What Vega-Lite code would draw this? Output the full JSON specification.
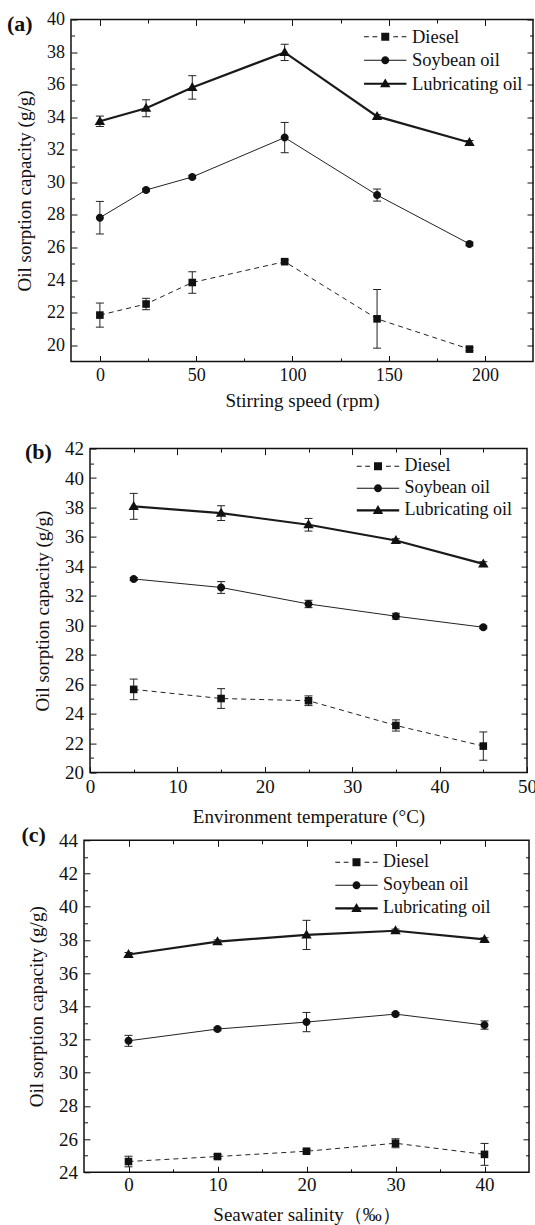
{
  "$schema": "https://vega.github.io/schema/vega-lite/v6.json",
  "background": "white",
  "padding": {"left": 5, "top": 9.5, "right": 0, "bottom": 0},
  "datasets": {
    "a": [
      {"oil": "Diesel", "x": 0, "y": 21.85, "lo": 21.11, "hi": 22.59},
      {"oil": "Diesel", "x": 24, "y": 22.53, "lo": 22.18, "hi": 22.88},
      {"oil": "Diesel", "x": 48, "y": 23.85, "lo": 23.19, "hi": 24.51},
      {"oil": "Diesel", "x": 96, "y": 25.13, "lo": 25.03, "hi": 25.23},
      {"oil": "Diesel", "x": 144, "y": 21.62, "lo": 19.82, "hi": 23.42},
      {"oil": "Diesel", "x": 192, "y": 19.76, "lo": 19.66, "hi": 19.86},
      {"oil": "Soybean oil", "x": 0, "y": 27.83, "lo": 26.83, "hi": 28.83},
      {"oil": "Soybean oil", "x": 24, "y": 29.53, "lo": 29.43, "hi": 29.63},
      {"oil": "Soybean oil", "x": 48, "y": 30.33, "lo": 30.23, "hi": 30.43},
      {"oil": "Soybean oil", "x": 96, "y": 32.75, "lo": 31.82, "hi": 33.68},
      {"oil": "Soybean oil", "x": 144, "y": 29.22, "lo": 28.85, "hi": 29.59},
      {"oil": "Soybean oil", "x": 192, "y": 26.22, "lo": 26.1, "hi": 26.34},
      {"oil": "Lubricating oil", "x": 0, "y": 33.75, "lo": 33.43, "hi": 34.07},
      {"oil": "Lubricating oil", "x": 24, "y": 34.55, "lo": 34.03, "hi": 35.07},
      {"oil": "Lubricating oil", "x": 48, "y": 35.83, "lo": 35.11, "hi": 36.55},
      {"oil": "Lubricating oil", "x": 96, "y": 37.98, "lo": 37.48, "hi": 38.48},
      {"oil": "Lubricating oil", "x": 144, "y": 34.05, "lo": 33.95, "hi": 34.15},
      {"oil": "Lubricating oil", "x": 192, "y": 32.45, "lo": 32.33, "hi": 32.57}
    ],
    "b": [
      {"oil": "Diesel", "x": 5, "y": 25.65, "lo": 24.95, "hi": 26.35},
      {"oil": "Diesel", "x": 15, "y": 25.03, "lo": 24.36, "hi": 25.7},
      {"oil": "Diesel", "x": 25, "y": 24.88, "lo": 24.55, "hi": 25.21},
      {"oil": "Diesel", "x": 35, "y": 23.2, "lo": 22.82, "hi": 23.58},
      {"oil": "Diesel", "x": 45, "y": 21.8, "lo": 20.84, "hi": 22.76},
      {"oil": "Soybean oil", "x": 5, "y": 33.15, "lo": 33.05, "hi": 33.25},
      {"oil": "Soybean oil", "x": 15, "y": 32.57, "lo": 32.17, "hi": 32.97},
      {"oil": "Soybean oil", "x": 25, "y": 31.45, "lo": 31.2, "hi": 31.7},
      {"oil": "Soybean oil", "x": 35, "y": 30.62, "lo": 30.42, "hi": 30.82},
      {"oil": "Soybean oil", "x": 45, "y": 29.87, "lo": 29.77, "hi": 29.97},
      {"oil": "Lubricating oil", "x": 5, "y": 38.08, "lo": 37.2, "hi": 38.96},
      {"oil": "Lubricating oil", "x": 15, "y": 37.62, "lo": 37.12, "hi": 38.12},
      {"oil": "Lubricating oil", "x": 25, "y": 36.83, "lo": 36.4, "hi": 37.26},
      {"oil": "Lubricating oil", "x": 35, "y": 35.76, "lo": 35.64, "hi": 35.88},
      {"oil": "Lubricating oil", "x": 45, "y": 34.17, "lo": 34.02, "hi": 34.32}
    ],
    "c": [
      {"oil": "Diesel", "x": 0, "y": 24.65, "lo": 24.33, "hi": 24.97},
      {"oil": "Diesel", "x": 10, "y": 24.95, "lo": 24.83, "hi": 25.07},
      {"oil": "Diesel", "x": 20, "y": 25.27, "lo": 25.17, "hi": 25.37},
      {"oil": "Diesel", "x": 30, "y": 25.75, "lo": 25.48, "hi": 26.02},
      {"oil": "Diesel", "x": 40, "y": 25.08, "lo": 24.42, "hi": 25.74},
      {"oil": "Soybean oil", "x": 0, "y": 31.92, "lo": 31.59, "hi": 32.25},
      {"oil": "Soybean oil", "x": 10, "y": 32.63, "lo": 32.53, "hi": 32.73},
      {"oil": "Soybean oil", "x": 20, "y": 33.05, "lo": 32.47, "hi": 33.63},
      {"oil": "Soybean oil", "x": 30, "y": 33.53, "lo": 33.43, "hi": 33.63},
      {"oil": "Soybean oil", "x": 40, "y": 32.87, "lo": 32.62, "hi": 33.12},
      {"oil": "Lubricating oil", "x": 0, "y": 37.12, "lo": 37.0, "hi": 37.24},
      {"oil": "Lubricating oil", "x": 10, "y": 37.9, "lo": 37.8, "hi": 38.0},
      {"oil": "Lubricating oil", "x": 20, "y": 38.3, "lo": 37.42, "hi": 39.18},
      {"oil": "Lubricating oil", "x": 30, "y": 38.55, "lo": 38.45, "hi": 38.65},
      {"oil": "Lubricating oil", "x": 40, "y": 38.03, "lo": 37.93, "hi": 38.13}
    ]
  },
  "concat": [
    {
      "concat": [
        {"width": 1, "height": 1, "data": {"values": []}, "mark": {"type": "point", "opacity": 0}},
        {
          "width": 462, "height": 342,
          "data": {"name": "a"},
          "view": {"stroke": "#111", "strokeWidth": 1.5},
          "title": {"text": "(a)", "anchor": "start", "frame": "group", "dx": -64, "offset": -25, "fontSize": 22, "fontWeight": "bold", "font": "Liberation Serif", "color": "#111"},
          "resolve": {"axis": {"x": "independent", "y": "independent"}, "scale": {"shape": "independent"}},
          "layer": [
            {
              "mark": {"type": "rule", "color": "#222", "strokeWidth": 1},
              "encoding": {
                "x": {"field": "x", "type": "quantitative", "scale": {"domain": [-15, 225], "nice": false, "zero": false},
                  "axis": {"orient": "bottom", "values": [0, 50, 100, 150, 200], "tickSize": -6, "labelPadding": 11, "labelFlush": false, "labelFontSize": 18, "title": "Stirring speed (rpm)", "titlePadding": 7}},
                "y": {"field": "lo", "type": "quantitative", "scale": {"domain": [19, 40], "nice": false, "zero": false},
                  "axis": {"orient": "left", "values": [20, 22, 24, 26, 28, 30, 32, 34, 36, 38, 40], "tickSize": -6, "labelPadding": 12.5, "labelFontSize": 18, "title": "Oil sorption capacity (g/g)", "titlePadding": 12}},
                "y2": {"field": "hi"}
              }
            },
            {
              "mark": {"type": "tick", "orient": "horizontal", "size": 8, "thickness": 1, "color": "#222", "opacity": 1},
              "encoding": {
                "x": {"field": "x", "type": "quantitative", "axis": {"orient": "bottom", "values": [25, 75, 125, 175], "tickSize": -3.5, "labels": false, "title": null}},
                "y": {"field": "lo", "type": "quantitative", "axis": {"orient": "left", "values": [21, 23, 25, 27, 29, 31, 33, 35, 37, 39], "tickSize": -3.5, "labels": false, "title": null}}
              }
            },
            {
              "mark": {"type": "tick", "orient": "horizontal", "size": 8, "thickness": 1, "color": "#222", "opacity": 1},
              "encoding": {
                "x": {"field": "x", "type": "quantitative", "axis": {"orient": "top", "values": [0, 50, 100, 150, 200], "tickSize": -6, "labels": false, "title": null}},
                "y": {"field": "hi", "type": "quantitative", "axis": {"orient": "right", "values": [20, 22, 24, 26, 28, 30, 32, 34, 36, 38, 40], "tickSize": -6, "labels": false, "title": null}}
              }
            },
            {
              "transform": [{"filter": "datum.oil === 'Diesel'"}],
              "mark": {"type": "line", "color": "#222", "strokeWidth": 1, "strokeDash": [5, 4]},
              "encoding": {
                "x": {"field": "x", "type": "quantitative", "axis": {"orient": "top", "values": [25, 75, 125, 175], "tickSize": -3.5, "labels": false, "title": null}},
                "y": {"field": "y", "type": "quantitative", "axis": {"orient": "right", "values": [21, 23, 25, 27, 29, 31, 33, 35, 37, 39], "tickSize": -3.5, "labels": false, "title": null}}
              }
            },
            {
              "transform": [{"filter": "datum.oil === 'Soybean oil'"}],
              "mark": {"type": "line", "color": "#222", "strokeWidth": 1},
              "encoding": {
                "x": {"field": "x", "type": "quantitative", "axis": null},
                "y": {"field": "y", "type": "quantitative", "axis": null}
              }
            },
            {
              "transform": [{"filter": "datum.oil === 'Lubricating oil'"}],
              "mark": {"type": "line", "color": "#1a1a1a", "strokeWidth": 2.2},
              "encoding": {
                "x": {"field": "x", "type": "quantitative", "axis": null},
                "y": {"field": "y", "type": "quantitative", "axis": null}
              }
            },
            {
              "mark": {"type": "point", "filled": true, "opacity": 1, "color": "#111", "size": 64},
              "encoding": {
                "x": {"field": "x", "type": "quantitative", "axis": null},
                "y": {"field": "y", "type": "quantitative", "axis": null},
                "shape": {"field": "oil", "type": "nominal", "legend": null,
                  "scale": {"domain": ["Diesel", "Soybean oil", "Lubricating oil"], "range": ["M-0.95,-0.95H0.95V0.95H-0.95Z", "M-1,0A1,1,0,1,1,1,0A1,1,0,1,1,-1,0Z", "M0,-1.35L1.3,0.9L-1.3,0.9Z"]}}
              }
            },
            {
              "transform": [{"filter": "false"}],
              "mark": {"type": "point", "filled": true, "opacity": 1, "color": "#111", "size": 64},
              "encoding": {
                "x": {"field": "x", "type": "quantitative", "axis": null},
                "y": {"field": "y", "type": "quantitative", "axis": null},
                "shape": {"field": "oil", "type": "nominal",
                  "scale": {"domain": ["Diesel", "Soybean oil", "Lubricating oil"], "range": ["M-5.3,-0.13H-4.1V0.13H-5.3ZM-3.2,-0.13H-2V0.13H-3.2ZM-1,-1H1V1H-1ZM2,-0.13H3.2V0.13H2ZM4.1,-0.13H5.3V0.13H4.1Z", "M-5.3,-0.13H5.3V0.13H-5.3ZM-1,0A1,1,0,1,1,1,0A1,1,0,1,1,-1,0Z", "M-5.3,-0.28H5.3V0.28H-5.3ZM0,-1.3L1.3,0.9L-1.3,0.9Z"]},
                  "legend": {"title": null, "orient": "none", "legendX": 305, "legendY": 8, "labelFontSize": 18.5, "labelOffset": 17.5, "rowPadding": 4.5, "symbolSize": 64, "symbolStrokeWidth": 0, "symbolFillColor": "#111", "symbolOpacity": 1, "labelLimit": 400, "padding": 0}}
              }
            }
          ]
        }
      ],
      "columns": 2,
      "align": "none",
      "spacing": 0
    },
    {
      "concat": [
        {
          "concat": [
            {"width": 18.2, "height": 1, "data": {"values": []}, "mark": {"type": "point", "opacity": 0}},
            {
              "width": 437, "height": 324,
              "data": {"name": "b"},
              "view": {"stroke": "#111", "strokeWidth": 1.5},
              "title": {"text": "(b)", "anchor": "start", "frame": "group", "dx": -65, "offset": -24, "fontSize": 22, "fontWeight": "bold", "font": "Liberation Serif", "color": "#111"},
              "resolve": {"axis": {"x": "independent", "y": "independent"}, "scale": {"shape": "independent"}},
              "layer": [
                {
                  "mark": {"type": "rule", "color": "#222", "strokeWidth": 1},
                  "encoding": {
                    "x": {"field": "x", "type": "quantitative", "scale": {"domain": [0, 50], "nice": false, "zero": false},
                      "axis": {"orient": "bottom", "values": [0, 10, 20, 30, 40, 50], "tickSize": -6, "labelPadding": 11, "labelFlush": false, "labelFontSize": 19, "title": "Environment temperature (°C)", "titlePadding": 11}},
                    "y": {"field": "lo", "type": "quantitative", "scale": {"domain": [20, 42], "nice": false, "zero": false},
                      "axis": {"orient": "left", "values": [20, 22, 24, 26, 28, 30, 32, 34, 36, 38, 40, 42], "tickSize": -6, "labelPadding": 12.5, "labelFontSize": 19, "title": "Oil sorption capacity (g/g)", "titlePadding": 12}},
                    "y2": {"field": "hi"}
                  }
                },
                {
                  "mark": {"type": "tick", "orient": "horizontal", "size": 8, "thickness": 1, "color": "#222", "opacity": 1},
                  "encoding": {
                    "x": {"field": "x", "type": "quantitative", "axis": {"orient": "bottom", "values": [5, 15, 25, 35, 45], "tickSize": -3.5, "labels": false, "title": null}},
                    "y": {"field": "lo", "type": "quantitative", "axis": {"orient": "left", "values": [21, 23, 25, 27, 29, 31, 33, 35, 37, 39, 41], "tickSize": -3.5, "labels": false, "title": null}}
                  }
                },
                {
                  "mark": {"type": "tick", "orient": "horizontal", "size": 8, "thickness": 1, "color": "#222", "opacity": 1},
                  "encoding": {
                    "x": {"field": "x", "type": "quantitative", "axis": {"orient": "top", "values": [10, 20, 30, 40], "tickSize": -6, "labels": false, "title": null}},
                    "y": {"field": "hi", "type": "quantitative", "axis": {"orient": "right", "values": [22, 24, 26, 28, 30, 32, 34, 36, 38, 40], "tickSize": -6, "labels": false, "title": null}}
                  }
                },
                {
                  "transform": [{"filter": "datum.oil === 'Diesel'"}],
                  "mark": {"type": "line", "color": "#222", "strokeWidth": 1, "strokeDash": [5, 4]},
                  "encoding": {
                    "x": {"field": "x", "type": "quantitative", "axis": {"orient": "top", "values": [5, 15, 25, 35, 45], "tickSize": -3.5, "labels": false, "title": null}},
                    "y": {"field": "y", "type": "quantitative", "axis": {"orient": "right", "values": [21, 23, 25, 27, 29, 31, 33, 35, 37, 39, 41], "tickSize": -3.5, "labels": false, "title": null}}
                  }
                },
                {
                  "transform": [{"filter": "datum.oil === 'Soybean oil'"}],
                  "mark": {"type": "line", "color": "#222", "strokeWidth": 1},
                  "encoding": {
                    "x": {"field": "x", "type": "quantitative", "axis": null},
                    "y": {"field": "y", "type": "quantitative", "axis": null}
                  }
                },
                {
                  "transform": [{"filter": "datum.oil === 'Lubricating oil'"}],
                  "mark": {"type": "line", "color": "#1a1a1a", "strokeWidth": 2.2},
                  "encoding": {
                    "x": {"field": "x", "type": "quantitative", "axis": null},
                    "y": {"field": "y", "type": "quantitative", "axis": null}
                  }
                },
                {
                  "mark": {"type": "point", "filled": true, "opacity": 1, "color": "#111", "size": 64},
                  "encoding": {
                    "x": {"field": "x", "type": "quantitative", "axis": null},
                    "y": {"field": "y", "type": "quantitative", "axis": null},
                    "shape": {"field": "oil", "type": "nominal", "legend": null,
                      "scale": {"domain": ["Diesel", "Soybean oil", "Lubricating oil"], "range": ["M-0.95,-0.95H0.95V0.95H-0.95Z", "M-1,0A1,1,0,1,1,1,0A1,1,0,1,1,-1,0Z", "M0,-1.35L1.3,0.9L-1.3,0.9Z"]}}
                  }
                },
                {
                  "transform": [{"filter": "false"}],
                  "mark": {"type": "point", "filled": true, "opacity": 1, "color": "#111", "size": 64},
                  "encoding": {
                    "x": {"field": "x", "type": "quantitative", "axis": null},
                    "y": {"field": "y", "type": "quantitative", "axis": null},
                    "shape": {"field": "oil", "type": "nominal",
                      "scale": {"domain": ["Diesel", "Soybean oil", "Lubricating oil"], "range": ["M-5.3,-0.13H-4.1V0.13H-5.3ZM-3.2,-0.13H-2V0.13H-3.2ZM-1,-1H1V1H-1ZM2,-0.13H3.2V0.13H2ZM4.1,-0.13H5.3V0.13H4.1Z", "M-5.3,-0.13H5.3V0.13H-5.3ZM-1,0A1,1,0,1,1,1,0A1,1,0,1,1,-1,0Z", "M-5.3,-0.28H5.3V0.28H-5.3ZM0,-1.3L1.3,0.9L-1.3,0.9Z"]},
                      "legend": {"title": null, "orient": "none", "legendX": 279, "legendY": 8.7, "labelFontSize": 18, "labelOffset": 17.5, "rowPadding": 4, "symbolSize": 64, "symbolStrokeWidth": 0, "symbolFillColor": "#111", "symbolOpacity": 1, "labelLimit": 400, "padding": 0}}
                  }
                }
              ]
            }
          ],
          "columns": 2,
          "align": "none",
          "spacing": 0
        },
        {
          "concat": [
            {"width": 14.5, "height": 1, "data": {"values": []}, "mark": {"type": "point", "opacity": 0}},
            {
              "width": 445, "height": 332,
              "data": {"name": "c"},
              "view": {"stroke": "#111", "strokeWidth": 1.5},
              "title": {"text": "(c)", "anchor": "start", "frame": "group", "dx": -62.5, "offset": -16, "fontSize": 22, "fontWeight": "bold", "font": "Liberation Serif", "color": "#111"},
              "resolve": {"axis": {"x": "independent", "y": "independent"}, "scale": {"shape": "independent"}},
              "layer": [
                {
                  "mark": {"type": "rule", "color": "#222", "strokeWidth": 1},
                  "encoding": {
                    "x": {"field": "x", "type": "quantitative", "scale": {"domain": [-5, 45], "nice": false, "zero": false},
                      "axis": {"orient": "bottom", "values": [0, 10, 20, 30, 40], "tickSize": -6, "labelPadding": 9, "labelFlush": false, "labelFontSize": 19, "title": "Seawater salinity（‰）", "titlePadding": 10.7}},
                    "y": {"field": "lo", "type": "quantitative", "scale": {"domain": [24, 44], "nice": false, "zero": false},
                      "axis": {"orient": "left", "values": [24, 26, 28, 30, 32, 34, 36, 38, 40, 42, 44], "tickSize": -6, "labelPadding": 12.5, "labelFontSize": 19, "title": "Oil sorption capacity (g/g)", "titlePadding": 12}},
                    "y2": {"field": "hi"}
                  }
                },
                {
                  "mark": {"type": "tick", "orient": "horizontal", "size": 8, "thickness": 1, "color": "#222", "opacity": 1},
                  "encoding": {
                    "x": {"field": "x", "type": "quantitative", "axis": {"orient": "bottom", "values": [5, 15, 25, 35], "tickSize": -3.5, "labels": false, "title": null}},
                    "y": {"field": "lo", "type": "quantitative", "axis": {"orient": "left", "values": [25, 27, 29, 31, 33, 35, 37, 39, 41, 43], "tickSize": -3.5, "labels": false, "title": null}}
                  }
                },
                {
                  "mark": {"type": "tick", "orient": "horizontal", "size": 8, "thickness": 1, "color": "#222", "opacity": 1},
                  "encoding": {
                    "x": {"field": "x", "type": "quantitative", "axis": {"orient": "top", "values": [0, 10, 20, 30, 40], "tickSize": -6, "labels": false, "title": null}},
                    "y": {"field": "hi", "type": "quantitative", "axis": {"orient": "right", "values": [26, 28, 30, 32, 34, 36, 38, 40, 42], "tickSize": -6, "labels": false, "title": null}}
                  }
                },
                {
                  "transform": [{"filter": "datum.oil === 'Diesel'"}],
                  "mark": {"type": "line", "color": "#222", "strokeWidth": 1, "strokeDash": [5, 4]},
                  "encoding": {
                    "x": {"field": "x", "type": "quantitative", "axis": {"orient": "top", "values": [5, 15, 25, 35], "tickSize": -3.5, "labels": false, "title": null}},
                    "y": {"field": "y", "type": "quantitative", "axis": {"orient": "right", "values": [25, 27, 29, 31, 33, 35, 37, 39, 41, 43], "tickSize": -3.5, "labels": false, "title": null}}
                  }
                },
                {
                  "transform": [{"filter": "datum.oil === 'Soybean oil'"}],
                  "mark": {"type": "line", "color": "#222", "strokeWidth": 1},
                  "encoding": {
                    "x": {"field": "x", "type": "quantitative", "axis": null},
                    "y": {"field": "y", "type": "quantitative", "axis": null}
                  }
                },
                {
                  "transform": [{"filter": "datum.oil === 'Lubricating oil'"}],
                  "mark": {"type": "line", "color": "#1a1a1a", "strokeWidth": 2.2},
                  "encoding": {
                    "x": {"field": "x", "type": "quantitative", "axis": null},
                    "y": {"field": "y", "type": "quantitative", "axis": null}
                  }
                },
                {
                  "mark": {"type": "point", "filled": true, "opacity": 1, "color": "#111", "size": 64},
                  "encoding": {
                    "x": {"field": "x", "type": "quantitative", "axis": null},
                    "y": {"field": "y", "type": "quantitative", "axis": null},
                    "shape": {"field": "oil", "type": "nominal", "legend": null,
                      "scale": {"domain": ["Diesel", "Soybean oil", "Lubricating oil"], "range": ["M-0.95,-0.95H0.95V0.95H-0.95Z", "M-1,0A1,1,0,1,1,1,0A1,1,0,1,1,-1,0Z", "M0,-1.35L1.3,0.9L-1.3,0.9Z"]}}
                  }
                },
                {
                  "transform": [{"filter": "false"}],
                  "mark": {"type": "point", "filled": true, "opacity": 1, "color": "#111", "size": 64},
                  "encoding": {
                    "x": {"field": "x", "type": "quantitative", "axis": null},
                    "y": {"field": "y", "type": "quantitative", "axis": null},
                    "shape": {"field": "oil", "type": "nominal",
                      "scale": {"domain": ["Diesel", "Soybean oil", "Lubricating oil"], "range": ["M-5.3,-0.13H-4.1V0.13H-5.3ZM-3.2,-0.13H-2V0.13H-3.2ZM-1,-1H1V1H-1ZM2,-0.13H3.2V0.13H2ZM4.1,-0.13H5.3V0.13H4.1Z", "M-5.3,-0.13H5.3V0.13H-5.3ZM-1,0A1,1,0,1,1,1,0A1,1,0,1,1,-1,0Z", "M-5.3,-0.28H5.3V0.28H-5.3ZM0,-1.3L1.3,0.9L-1.3,0.9Z"]},
                      "legend": {"title": null, "orient": "none", "legendX": 263.5, "legendY": 13, "labelFontSize": 18, "labelOffset": 17.5, "rowPadding": 5, "symbolSize": 64, "symbolStrokeWidth": 0, "symbolFillColor": "#111", "symbolOpacity": 1, "labelLimit": 400, "padding": 0}}
                  }
                }
              ]
            }
          ],
          "columns": 2,
          "align": "none",
          "spacing": 0
        }
      ],
      "columns": 1,
      "align": "none",
      "spacing": -4.3
    }
  ],
  "columns": 1,
  "align": "none",
  "spacing": 27.1,
  "config": {
    "font": "Liberation Serif",
    "view": {"stroke": null},
    "style": {"guide-label": {"font": "Liberation Serif"}, "guide-title": {"font": "Liberation Serif"}},
    "axis": {"labelFont": "Liberation Serif", "titleFont": "Liberation Serif", "labelColor": "#111", "titleColor": "#111", "titleFontSize": 19, "titleFontWeight": "normal", "grid": false, "domain": false, "tickColor": "#111", "tickWidth": 1},
    "legend": {"labelFont": "Liberation Serif", "labelColor": "#111"}
  }
}
